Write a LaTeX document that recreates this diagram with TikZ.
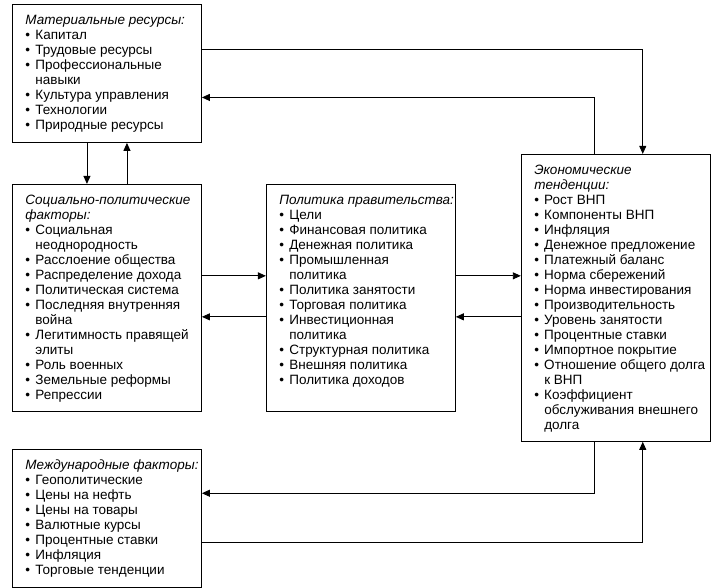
\documentclass[tikz,border=0pt]{standalone}
\usepackage{fontspec}
\setmainfont{Liberation Sans}
\usetikzlibrary{positioning,arrows.meta}

\newcommand{\itm}[1]{\par\hangindent=10pt\hangafter=1\makebox[10pt][l]{\textbullet}#1}
\newcommand{\boxtxt}[2]{\parbox[t][#1][t]{189pt}{\fontsize{13.5}{15}\selectfont\raggedright\leftskip=13pt\strut #2}}

\begin{document}
\begin{tikzpicture}[x=1pt,y=-1pt,->,>={Triangle[length=8pt,width=7pt]},line width=0.9pt,box/.style={draw,-,inner xsep=0pt,inner ysep=10pt,anchor=north west}]
                \useasboundingbox (0,0) rectangle (717,588);

                \node[box] (1) at (12,4) {\boxtxt{118pt}{\textit{Материальные ресурсы:}
                    \itm{Капитал}\itm{Трудовые ресурсы}\itm{Профессиональные\newline навыки}\itm{Культура управления}\itm{Технологии}\itm{Природные ресурсы}}};
                \node[box] (2) [below=41pt of 1.south west,anchor=north west] {\boxtxt{207pt}{\textit{Социально-политические\newline факторы:}
                    \itm{Социальная\newline неоднородность}\itm{Расслоение общества}\itm{Распределение дохода}\itm{Политическая система}\itm{Последняя внутренняя\newline война}\itm{Легитимность правящей\newline элиты}\itm{Роль военных}\itm{Земельные реформы}\itm{Репрессии}}};
                \node[box] (3) [right=64pt of 2.north east,anchor=north west] {\boxtxt{207pt}{\textit{Политика правительства:}
                    \itm{Цели}\itm{Финансовая политика}\itm{Денежная политика}\itm{Промышленная\newline политика}\itm{Политика занятости}\itm{Торговая политика}\itm{Инвестиционная\newline политика}\itm{Структурная политика}\itm{Внешняя политика}\itm{Политика доходов}}};
                \node[box] (4) [above right=30pt and 65pt of 3.north east,anchor=north west] {\boxtxt{267pt}{\textit{Экономические\newline тенденции:}
                    \itm{Рост ВНП}\itm{Компоненты ВНП}\itm{Инфляция}\itm{Денежное предложение}\itm{Платежный баланс}\itm{Норма сбережений}\itm{Норма инвестирования}\itm{Производительность}\itm{Уровень занятости}\itm{Процентные ставки}\itm{Импортное покрытие}\itm{Отношение общего долга\newline к ВНП}\itm{Коэффициент\newline обслуживания внешнего\newline долга}}};
                \node[box] (5) [below=37pt of 2.south west,anchor=north west] {\boxtxt{118pt}{\textit{Международные факторы:}
                    \itm{Геополитические}\itm{Цены на нефть}\itm{Цены на товары}\itm{Валютные курсы}\itm{Процентные ставки}\itm{Инфляция}\itm{Торговые тенденции}}};

                \path
                    ([xshift=-20pt]1.south) edge ([xshift=-20pt]2.north)
                    ([xshift=20pt]2.north) edge ([xshift=20pt]1.south)
                    ([yshift=22pt]2.east) edge ([yshift=22pt]3.west)
                    ([yshift=-19pt]3.west) edge ([yshift=-19pt]2.east)
                    ([yshift=22pt]3.east) edge ([yshift=22pt]4.west)
                    ([yshift=-19pt]4.west) edge ([yshift=-19pt]3.east)
                ;

                \draw ([yshift=24pt]1.east) -| ([xshift=27pt]4.north);
                \draw ([xshift=-21pt]4.north) |- ([yshift=-24pt]1.east);
                \draw ([xshift=-21pt]4.south) |- ([yshift=25pt]5.east);
                \draw ([yshift=-24pt]5.east) -| ([xshift=27pt]4.south);
            \end{tikzpicture}
\end{document}
